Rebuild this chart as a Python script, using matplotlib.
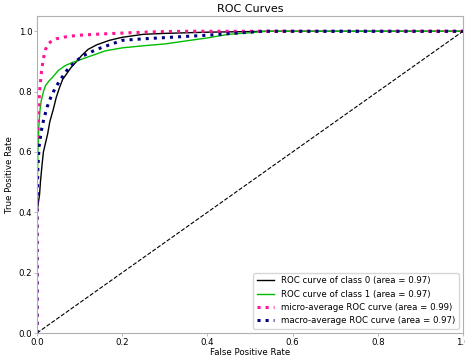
import matplotlib
matplotlib.use("Agg")
import matplotlib.pyplot as plt

# ROC points
fpr_class0 = [0, 0, 0.003, 0.006, 0.008, 0.010, 0.012, 0.015, 0.020, 0.025, 0.030, 0.038, 0.045, 0.052,
              0.060, 0.070, 0.080, 0.093, 0.105, 0.12, 0.14, 0.17, 0.2, 0.25, 0.3, 0.35, 0.4, 0.5, 0.56, 1.0]
tpr_class0 = [0, 0.40, 0.43, 0.46, 0.50, 0.53, 0.56, 0.60, 0.63, 0.66, 0.70, 0.74, 0.78, 0.81,
              0.84, 0.86, 0.88, 0.90, 0.92, 0.94, 0.955, 0.97, 0.98, 0.99, 0.993, 0.995, 0.997, 0.999, 1.0, 1.0]

fpr_class1 = [0, 0, 0.002, 0.004, 0.007, 0.010, 0.015, 0.020, 0.028, 0.038, 0.050, 0.065, 0.080, 0.10,
              0.13, 0.16, 0.2, 0.25, 0.3, 0.35, 0.4, 0.45, 0.5, 0.535, 1.0]
tpr_class1 = [0, 0.45, 0.60, 0.68, 0.74, 0.77, 0.80, 0.82, 0.835, 0.85, 0.87, 0.885, 0.895, 0.905,
              0.92, 0.935, 0.945, 0.952, 0.958, 0.968, 0.978, 0.99, 0.995, 1.0, 1.0]

fpr_micro = [0, 0, 0.001, 0.003, 0.006, 0.010, 0.015, 0.020, 0.027, 0.035, 0.045, 0.06, 0.08, 0.1,
             0.15, 0.2, 0.25, 0.3, 0.35, 1.0]
tpr_micro = [0, 0.40, 0.60, 0.72, 0.80, 0.86, 0.91, 0.94, 0.96, 0.968, 0.975, 0.98, 0.984, 0.987,
             0.991, 0.994, 0.997, 0.999, 1.0, 1.0]

fpr_macro = [0, 0, 0.002, 0.005, 0.010, 0.016, 0.024, 0.032, 0.042, 0.055, 0.07, 0.09, 0.11, 0.14,
             0.17, 0.2, 0.25, 0.3, 0.35, 0.4, 0.45, 0.5, 0.53, 1.0]
tpr_macro = [0, 0.40, 0.55, 0.62, 0.67, 0.71, 0.75, 0.78, 0.81, 0.84, 0.87, 0.90, 0.92, 0.94,
             0.955, 0.97, 0.975, 0.979, 0.983, 0.987, 0.992, 0.997, 1.0, 1.0]

auc_class0 = 0.97
auc_class1 = 0.97
auc_micro = 0.99
auc_macro = 0.97

fig = plt.figure(figsize=(4.65, 3.58), dpi=100)
ax = fig.add_axes([0.0796, 0.0698, 0.916, 0.885])

ax.plot(fpr_class0, tpr_class0, color=plt.cm.nipy_spectral(0.0), lw=1,
        label="ROC curve of class 0 (area = {:0.2f})".format(auc_class0))
ax.plot(fpr_class1, tpr_class1, color=plt.cm.nipy_spectral(0.5), lw=1,
        label="ROC curve of class 1 (area = {:0.2f})".format(auc_class1))
ax.plot(fpr_micro, tpr_micro, color="deeppink", ls=":", lw=2.2,
        label="micro-average ROC curve (area = {:0.2f})".format(auc_micro))
ax.plot(fpr_macro, tpr_macro, color="navy", ls=":", lw=2.2,
        label="macro-average ROC curve (area = {:0.2f})".format(auc_macro))
ax.plot([0, 1], [0, 1], "k--", lw=0.8)

ax.set_xlim([0.0, 1.0])
ax.set_ylim([0.0, 1.05])
ax.set_title("ROC Curves", fontsize=8, pad=3)
ax.set_xlabel("False Positive Rate", fontsize=6.2, labelpad=1)
ax.set_ylabel("True Positive Rate", fontsize=6.2, labelpad=3)
ax.tick_params(labelsize=6.2, length=2, width=0.6, pad=1.5, color="#b0b0b0")
for s in ax.spines.values():
    s.set_color("#b0b0b0")
ax.legend(loc="lower right", fontsize=6.2)

fig.savefig("out.png", dpi=100)
